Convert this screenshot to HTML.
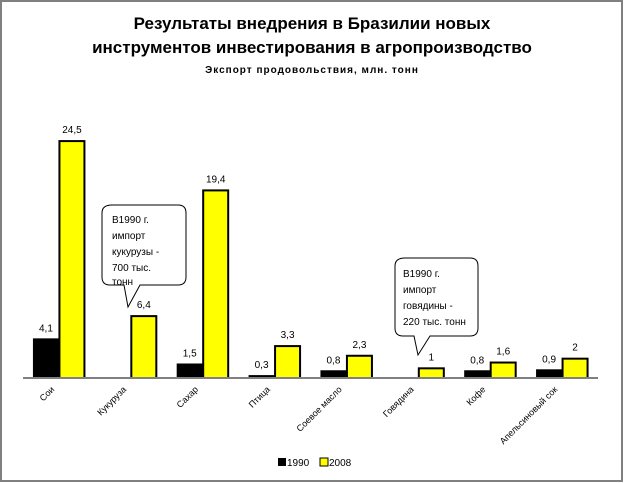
<!DOCTYPE html>
<html><head><meta charset="utf-8"><style>
body{margin:0;background:#fff}
svg{display:block;font-family:"Liberation Sans",sans-serif}
</style></head><body>
<svg width="624" height="483" viewBox="0 0 624 483">
<rect x="1" y="1" width="621" height="480" fill="#fff" stroke="#808080" stroke-width="2"/>
<text x="312" y="29" text-anchor="middle" font-size="17" font-weight="bold">Результаты внедрения в Бразилии новых</text>
<text x="312" y="53" text-anchor="middle" font-size="17" font-weight="bold">инструментов инвестирования в агропроизводство</text>
<text x="312" y="73" text-anchor="middle" font-size="10" font-weight="bold" letter-spacing="1">Экспорт продовольствия, млн. тонн</text>
<g id="bars"></g>
<line x1="23" y1="378" x2="598" y2="378" stroke="#808080" stroke-width="2"/>
<g>
<path d="M112,205 H178 Q186,205 186,213 V277 Q186,285 178,285 H140 L128,307 L124,285 H110 Q102,285 102,277 V213 Q102,205 112,205 Z" fill="#fff" stroke="#000" stroke-width="1"/>
<text font-size="10" x="112"><tspan x="112" y="223">В1990 г.</tspan><tspan x="112" y="239">импорт</tspan><tspan x="112" y="255">кукурузы -</tspan><tspan x="112" y="271">700 тыс.</tspan><tspan x="112" y="287" dy="-2">тонн</tspan></text>
</g>
<g>
<path d="M405,258 H470 Q478,258 478,266 V328 Q478,336 470,336 H430 L418,355 L414,336 H403 Q395,336 395,328 V266 Q395,258 405,258 Z" fill="#fff" stroke="#000" stroke-width="1"/>
<text font-size="10"><tspan x="403" y="277">В1990 г.</tspan><tspan x="403" y="293">импорт</tspan><tspan x="403" y="309">говядины -</tspan><tspan x="403" y="325">220 тыс. тонн</tspan></text>
</g>
<g>
<rect x="278" y="458" width="8" height="8" fill="#000"/>
<text x="287" y="466" font-size="10">1990</text>
<rect x="320" y="458" width="8" height="8" fill="#ff0" stroke="#000"/>
<text x="329" y="466" font-size="10">2008</text>
</g>
</svg>
<script>
const categories=["Сои","Кукуруза","Сахар","Птица","Соевое масло","Говядина","Кофе","Апельсиновый сок"];
const values1990=[4.1,null,1.5,0.3,0.8,null,0.8,0.9];
const values2008=[24.5,6.4,19.4,3.3,2.3,1,1.6,2];
const labels1990=["4,1","","1,5","0,3","0,8","","0,8","0,9"];
const labels2008=["24,5","6,4","19,4","3,3","2,3","1","1,6","2"];
const NS="http://www.w3.org/2000/svg";
const g=document.getElementById('bars');
const x0=23,x1=598,base=378,pxPerUnit=9.67,bw=26;
const step=(x1-x0)/categories.length;
function xc(i){return x0+step*(i+0.5);}
function y(v){return base-v*pxPerUnit;}
function mk(t,a){const e=document.createElementNS(NS,t);for(const k in a)e.setAttribute(k,a[k]);return e;}
categories.forEach((c,i)=>{
  const cx=xc(i);
  if(values1990[i]!=null){
    const r=mk('rect',{x:cx-bw,y:y(values1990[i]),width:bw,height:values1990[i]*pxPerUnit,fill:'#000'});
    
    
    g.appendChild(r);
    const t=mk('text',{x:cx-bw/2,y:y(values1990[i])-7,'text-anchor':'middle','font-size':'10'});
    t.textContent=labels1990[i];
    
    
    g.appendChild(t);
  }
  const r2=mk('rect',{x:cx+0.5,y:y(values2008[i]),width:bw-1,height:values2008[i]*pxPerUnit,fill:'#ff0',stroke:'#000','stroke-width':'2'});
  
  
  g.appendChild(r2);
  const t2=mk('text',{x:cx+bw/2,y:y(values2008[i])-8,'text-anchor':'middle','font-size':'10'});
  t2.textContent=labels2008[i];
  
  
  g.appendChild(t2);
  const lx=cx-4,ly=390;
  const l=mk('text',{x:lx,y:ly,'text-anchor':'end','font-size':'9',transform:`rotate(-45 ${lx} ${ly})`});
  l.textContent=c;
  
  
  g.appendChild(l);
});
</script>
</body></html>
